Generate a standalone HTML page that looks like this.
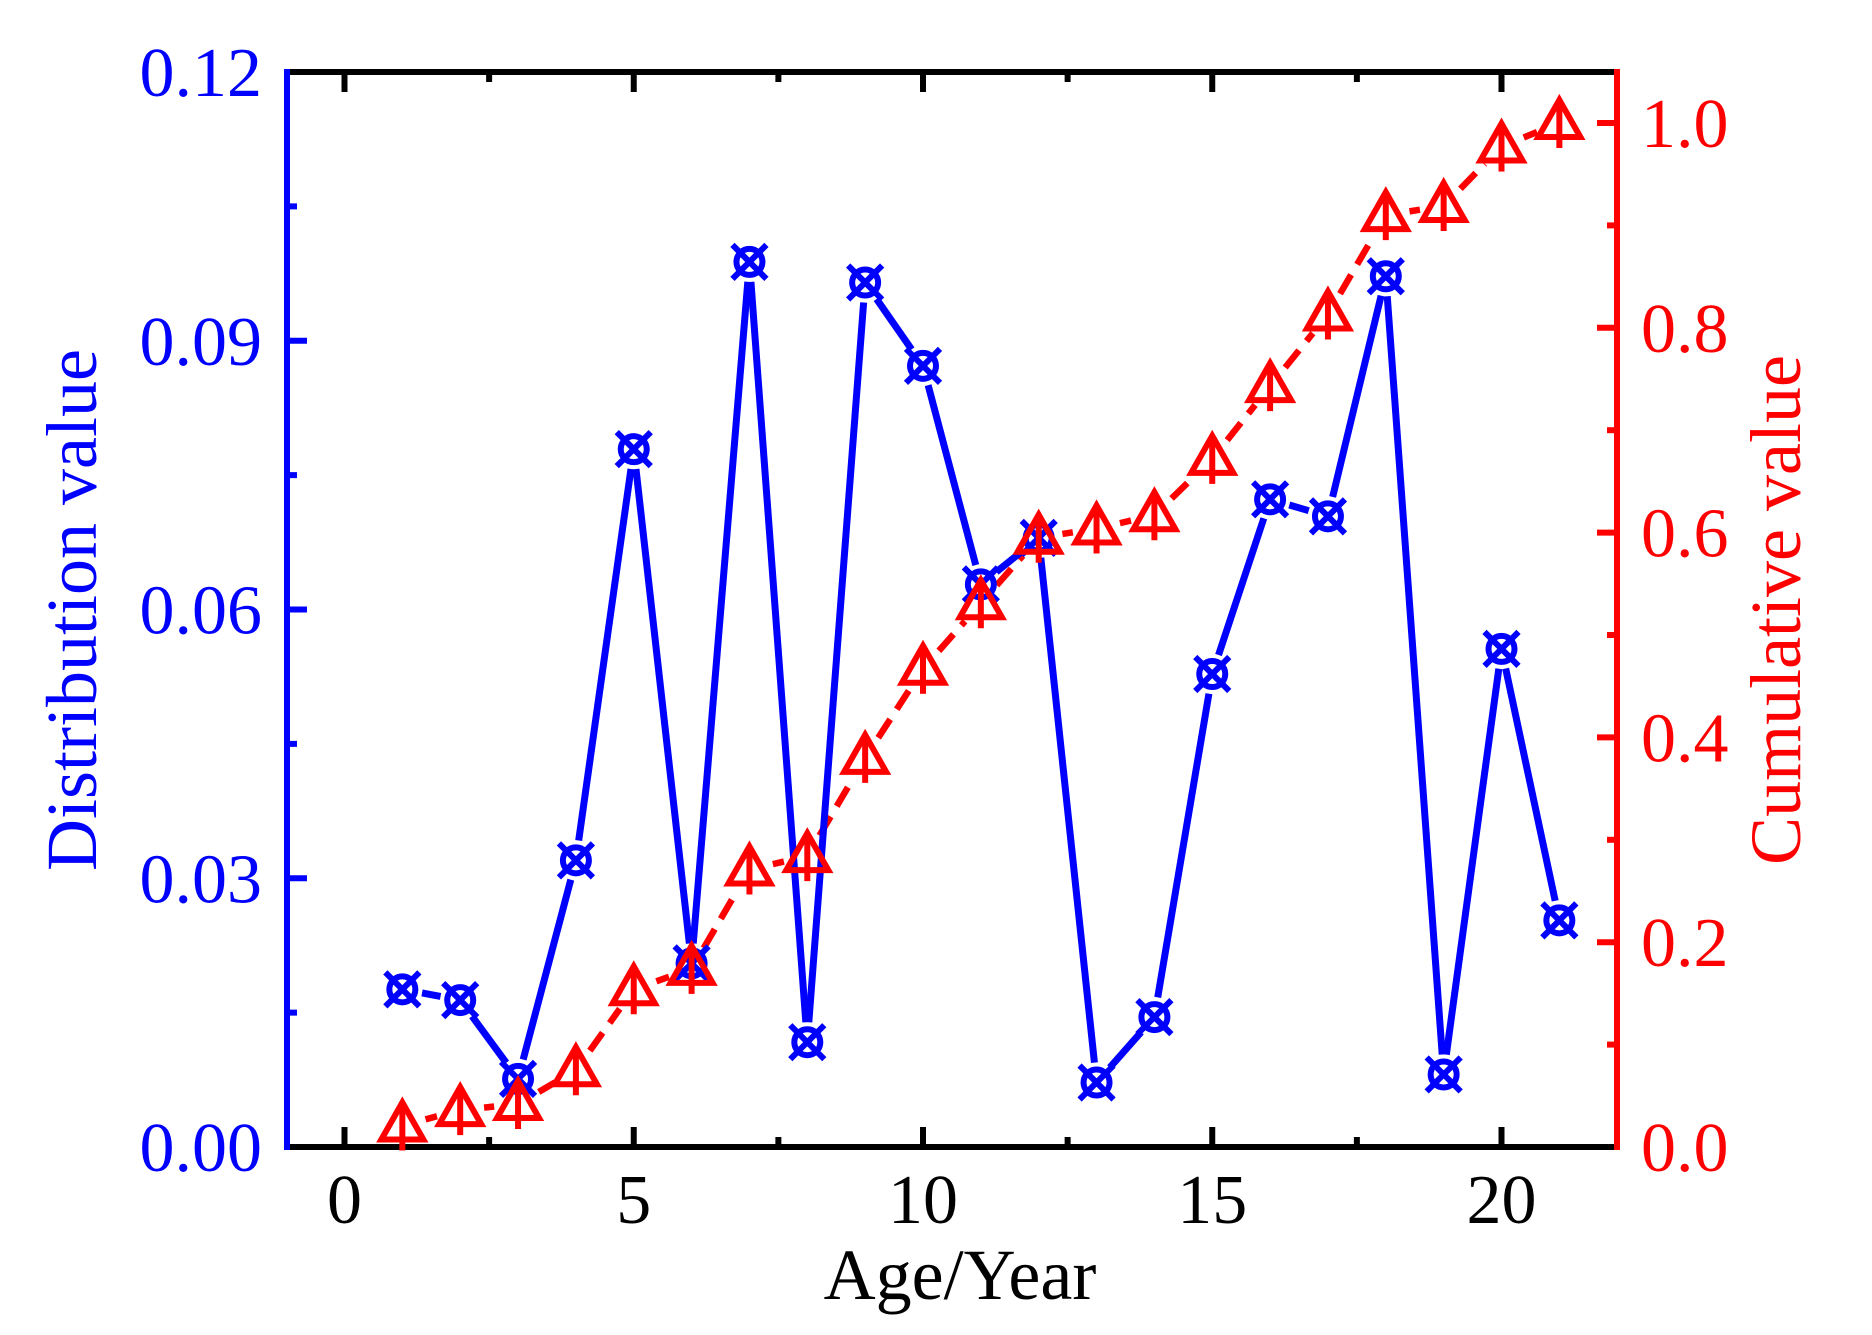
<!DOCTYPE html>
<html><head><meta charset="utf-8"><style>html,body{margin:0;padding:0;background:#fff}svg{display:block}</style></head>
<body>
<svg id="s" width="1872" height="1335" xmlns="http://www.w3.org/2000/svg" font-family="Liberation Serif, serif">
</svg>
<script>
const S=document.getElementById('s');
const L=287,R=1617,T=72,B=1147;
const X=v=>344.5+v*57.85;
const YL=v=>B-v/0.12*(B-T);
const YR=v=>B-v*1024;
let h='';
for(let i=0;i<=20;i+=5){h+=`<line x1="${X(i)}" y1="${B}" x2="${X(i)}" y2="${B-20}" stroke="#000" stroke-width="6"/>`;
h+=`<line x1="${X(i)}" y1="${T}" x2="${X(i)}" y2="${T+20}" stroke="#000" stroke-width="6"/>`;
h+=`<text x="${X(i)}" y="1223" font-size="70" text-anchor="middle">${i}</text>`;}
for(let i=2.5;i<=22;i+=5){h+=`<line x1="${X(i)}" y1="${B}" x2="${X(i)}" y2="${B-10}" stroke="#000" stroke-width="6"/>`;
h+=`<line x1="${X(i)}" y1="${T}" x2="${X(i)}" y2="${T+10}" stroke="#000" stroke-width="6"/>`;}
for(let k=0;k<=4;k++){const v=k*0.03,y=YL(v);
h+=`<line x1="${L}" y1="${y}" x2="${L+20}" y2="${y}" stroke="#00f" stroke-width="6"/>`;
h+=`<text x="262" y="${y+24}" font-size="70" fill="#00f" text-anchor="end">${v.toFixed(2)}</text>`;
if(k<4){const y2=YL(v+0.015);h+=`<line x1="${L}" y1="${y2}" x2="${L+10}" y2="${y2}" stroke="#00f" stroke-width="6"/>`;}}
for(let k=0;k<=5;k++){const v=k*0.2,y=YR(v);
h+=`<line x1="${R}" y1="${y}" x2="${R-20}" y2="${y}" stroke="#f00" stroke-width="6"/>`;
h+=`<text x="1641" y="${y+24}" font-size="70" fill="#f00">${v.toFixed(1)}</text>`;
const y2=YR(v+0.1);if(y2>T)h+=`<line x1="${R}" y1="${y2}" x2="${R-10}" y2="${y2}" stroke="#f00" stroke-width="6"/>`;}
h+=`<line x1="${L}" y1="${T}" x2="${R}" y2="${T}" stroke="#000" stroke-width="6"/>`;
h+=`<line x1="${L}" y1="${B}" x2="${R}" y2="${B}" stroke="#000" stroke-width="6"/>`;
h+=`<line x1="${L}" y1="${T-3}" x2="${L}" y2="${B+3}" stroke="#00f" stroke-width="6"/>`;
h+=`<line x1="${R}" y1="${T-3}" x2="${R}" y2="${B+3}" stroke="#f00" stroke-width="6"/>`;
h+=`<text x="960" y="1299" font-size="72" text-anchor="middle">Age/Year</text>`;
h+=`<text transform="translate(96,610) rotate(-90)" font-size="72" fill="#00f" text-anchor="middle">Distribution value</text>`;
h+=`<text transform="translate(1800,610) rotate(-90)" font-size="72" fill="#f00" text-anchor="middle">Cumulative value</text>`;
const bl=[0.0176,0.0164,0.0076,0.032,0.0779,0.0205,0.0988,0.0117,0.0965,0.0872,0.0628,0.068,0.0072,0.0145,0.0528,0.0723,0.0704,0.0972,0.0081,0.0556,0.0253];
const rd=[0.021,0.036,0.042,0.075,0.154,0.174,0.271,0.284,0.380,0.467,0.531,0.595,0.604,0.617,0.672,0.743,0.813,0.910,0.919,0.977,1.0];
const bp=bl.map((v,i)=>[X(i+1),YL(v)]), rp=rd.map((v,i)=>[X(i+1),YR(v)]);
function segs(p,g,attr){let s='';for(let i=0;i<p.length-1;i++){const [x1,y1]=p[i],[x2,y2]=p[i+1];const d=Math.hypot(x2-x1,y2-y1);if(d<2*g)continue;const ux=(x2-x1)/d,uy=(y2-y1)/d;
s+=`<line x1="${x1+ux*g}" y1="${y1+uy*g}" x2="${x2-ux*g}" y2="${y2-uy*g}" ${attr}/>`;}return s;}
h+=segs(rp,24,'stroke="#f00" stroke-width="6.5" stroke-dasharray="22 12"');
h+=segs(bp,20,'stroke="#00f" stroke-width="7"');
for(const [x,y] of bp){h+=`<circle cx="${x}" cy="${y}" r="13" fill="none" stroke="#00f" stroke-width="6"/>`;
h+=`<path d="M${x-17} ${y-17}L${x+17} ${y+17}M${x+17} ${y-17}L${x-17} ${y+17}" stroke="#00f" stroke-width="6"/>`;}
for(const [x,y] of rp){h+=`<path d="M${x} ${y-23}L${x+21} ${y+14}L${x-21} ${y+14}Z" fill="none" stroke="#f00" stroke-width="6" stroke-linejoin="miter"/>`;
h+=`<line x1="${x}" y1="${y-17}" x2="${x}" y2="${y+25}" stroke="#f00" stroke-width="6"/>`;}
S.innerHTML=h;
</script>
</body></html>
